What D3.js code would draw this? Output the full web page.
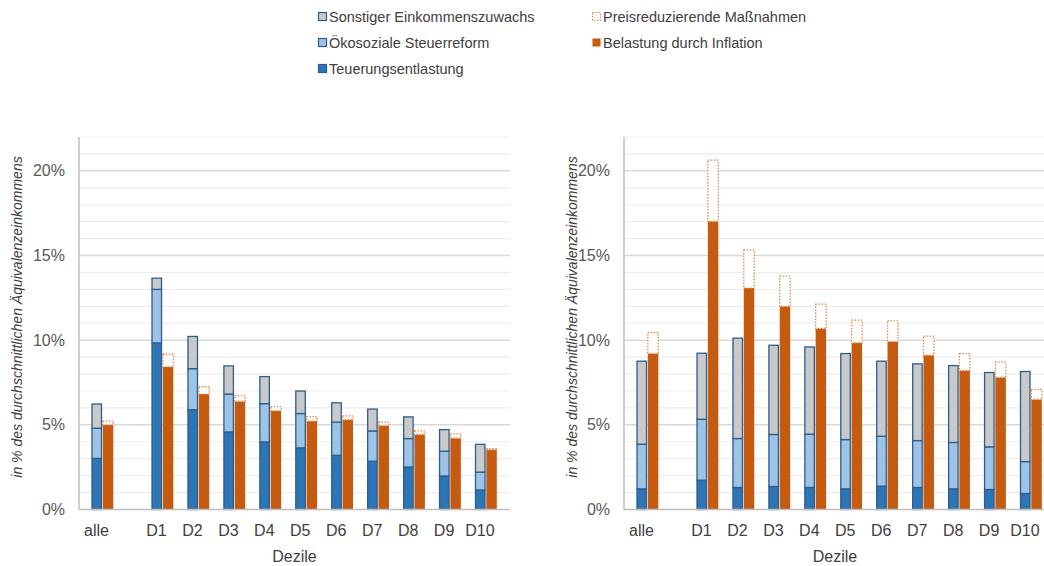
<!DOCTYPE html>
<html lang="de">
<head>
<meta charset="utf-8">
<script src="https://cdn.jsdelivr.net/npm/d3@7"></script>
<style>
  html, body { margin: 0; padding: 0; background: #fff; }
  svg { display: block; font-family: "Liberation Sans", Arial, sans-serif; }
</style>
</head>
<body>
<svg id="chart" width="1044" height="566"></svg>
<script>
// Kategorien: alle Haushalte und Einkommensdezile
const categories = ["alle", "D1", "D2", "D3", "D4", "D5", "D6", "D7", "D8", "D9", "D10"];

// Linkes Diagramm – Anteile in % des durchschnittlichen Äquivalenzeinkommens
const leftTeuerung   = [3.02, 9.84, 5.89, 4.58, 3.99, 3.64, 3.20, 2.85, 2.51, 1.98, 1.15];
const leftOeko       = [1.78, 3.16, 2.43, 2.24, 2.26, 2.03, 1.96, 1.79, 1.68, 1.46, 1.06];
const leftSonstig    = [1.43, 0.66, 1.90, 1.66, 1.60, 1.33, 1.14, 1.29, 1.28, 1.28, 1.64];
const leftInflation  = [5.00, 8.42, 6.82, 6.38, 5.83, 5.22, 5.30, 4.96, 4.43, 4.21, 3.52];
const leftPreis      = [0.22, 0.75, 0.43, 0.34, 0.24, 0.27, 0.23, 0.20, 0.21, 0.26, 0.08];

// Rechtes Diagramm
const rightTeuerung  = [1.22, 1.73, 1.30, 1.36, 1.30, 1.22, 1.38, 1.30, 1.22, 1.18, 0.94];
const rightOeko      = [2.64, 3.60, 2.89, 3.07, 3.15, 2.91, 2.95, 2.77, 2.74, 2.52, 1.89];
const rightSonstig   = [4.90, 3.90, 5.93, 5.27, 5.15, 5.08, 4.43, 4.53, 4.54, 4.39, 5.32];
const rightInflation = [9.21, 17.02, 13.08, 12.00, 10.69, 9.84, 9.92, 9.11, 8.21, 7.80, 6.50];
const rightPreis     = [1.24, 3.61, 2.25, 1.78, 1.44, 1.34, 1.22, 1.13, 1.00, 0.90, 0.59];

const yTicks = [0, 5, 10, 15, 20];
const yMax = 22;

const legendItems = [
  { key: "sonstig",   label: "Sonstiger Einkommenszuwachs" },
  { key: "oeko",      label: "Ökosoziale Steuerreform" },
  { key: "teuerung",  label: "Teuerungsentlastung" },
  { key: "preis",     label: "Preisreduzierende Maßnahmen" },
  { key: "inflation", label: "Belastung durch Inflation" }
];

const colors = {
  teuerung: "#2e75b6",
  oeko: "#9dc3e6",
  sonstig: "#c9c9c9",
  inflation: "#c55a11",
  blueStroke: "#2c5d8c",
  preisStroke: "#e8864a"
};

const svg = d3.select("#chart");

// Legende
const legend = svg.append("g").attr("font-size", "14.5px").attr("fill", "#404040");
const legendPos = [
  { x: 318, y: 17 }, { x: 318, y: 43 }, { x: 318, y: 69 },
  { x: 592, y: 17 }, { x: 592, y: 43 }
];
legendItems.forEach((item, i) => {
  const p = legendPos[i];
  const g = legend.append("g").attr("transform", `translate(${p.x},${p.y})`);
  const sw = g.append("rect").attr("x", 0.5).attr("y", -4.5).attr("width", 8).attr("height", 8);
  if (item.key === "preis") {
    sw.attr("fill", "#fff").attr("stroke", colors.preisStroke).attr("stroke-width", 1.2)
      .attr("stroke-dasharray", "1.5,1.5");
  } else if (item.key === "inflation") {
    sw.attr("fill", colors.inflation);
  } else {
    sw.attr("fill", colors[item.key]).attr("stroke", colors.blueStroke).attr("stroke-width", 1.2);
  }
  g.append("text").attr("x", 11).attr("y", 0).attr("dy", "0.35em").text(item.label);
});

function drawPanel(left, series) {
  const width = 431;
  const top = 137, bottom = 509.5;
  const g = svg.append("g").attr("transform", `translate(${left},0)`);

  const y = d3.scaleLinear().domain([0, yMax]).range([bottom, top]);

  // Gruppenposition: "alle" steht abgesetzt vor den Dezilen
  const gap = 1.67;
  const slot = i => (i === 0 ? -gap : i - 1);
  const x = d3.scaleLinear().domain([-gap, 9]).range([23, 406.5]);

  // Gitternetzlinien
  const grid = g.append("g");
  d3.range(1, yMax + 1).forEach(v => {
    const major = v % 5 === 0;
    grid.append("line")
      .attr("x1", 0).attr("x2", width)
      .attr("y1", y(v)).attr("y2", y(v))
      .attr("stroke", major ? "#d9d9d9" : "#ededed")
      .attr("stroke-width", major ? 1.5 : 1.2);
  });

  // Y-Achse mit Prozentbeschriftung
  const yAxis = d3.axisLeft(y).tickValues(yTicks).tickFormat(d => d + "%").tickSize(0).tickPadding(14);
  const ya = g.append("g").call(yAxis);
  ya.select(".domain").remove();
  ya.selectAll("text").attr("font-size", "16px").attr("fill", "#595959")
    .attr("font-family", "'Liberation Sans', Arial, sans-serif");

  // Achsenlinien
  g.append("line").attr("x1", 0).attr("x2", 0).attr("y1", top).attr("y2", bottom)
    .attr("stroke", "#bfbfbf").attr("stroke-width", 1.5);

  // Gestapelte Entlastungen (blau) und Belastungen (orange)
  const rows = categories.map((c, i) => ({
    cat: c, i,
    teuerung: series.teuerung[i], oeko: series.oeko[i], sonstig: series.sonstig[i],
    inflation: series.inflation[i], preis: series.preis[i]
  }));
  const blueStack = d3.stack().keys(["teuerung", "oeko", "sonstig"])(rows);
  const orangeStack = d3.stack().keys(["inflation", "preis"])(rows);

  const bw = 9.5, ow = 10.5;
  blueStack.forEach(layer => {
    g.append("g").selectAll("rect").data(layer).join("rect")
      .attr("x", d => x(slot(d.data.i)) - bw - 0.5)
      .attr("y", d => y(d[1]))
      .attr("width", bw)
      .attr("height", d => y(d[0]) - y(d[1]))
      .attr("fill", colors[layer.key])
      .attr("stroke", colors.blueStroke)
      .attr("stroke-width", 1.3);
  });

  orangeStack.forEach(layer => {
    const sel = g.append("g").selectAll("rect").data(layer).join("rect")
      .attr("x", d => x(slot(d.data.i)) + 0.8)
      .attr("y", d => y(d[1]))
      .attr("width", ow)
      .attr("height", d => y(d[0]) - y(d[1]));
    if (layer.key === "inflation") {
      sel.attr("fill", colors.inflation);
    } else {
      sel.attr("fill", "#fff").attr("stroke", colors.preisStroke)
        .attr("stroke-width", 1.3).attr("stroke-dasharray", "1.5,1.5");
    }
  });

  // X-Achse
  g.append("line").attr("x1", 0).attr("x2", width).attr("y1", bottom).attr("y2", bottom)
    .attr("stroke", "#bfbfbf").attr("stroke-width", 1.5);

  g.append("g").selectAll("text").data(categories).join("text")
    .attr("x", (d, i) => x(slot(i)) - 5.5)
    .attr("y", 530).attr("dy", "0.35em")
    .attr("text-anchor", "middle")
    .attr("font-size", "16px").attr("fill", "#404040")
    .text(d => d);

  return g;
}

drawPanel(79, { teuerung: leftTeuerung, oeko: leftOeko, sonstig: leftSonstig,
                inflation: leftInflation, preis: leftPreis });
drawPanel(624, { teuerung: rightTeuerung, oeko: rightOeko, sonstig: rightSonstig,
                 inflation: rightInflation, preis: rightPreis });

// Achsentitel
[{ x: 294.5 }, { x: 835 }].forEach(p => {
  svg.append("text").attr("x", p.x).attr("y", 556).attr("dy", "0.35em")
    .attr("text-anchor", "middle").attr("font-size", "16px").attr("fill", "#404040")
    .text("Dezile");
});
[{ x: 17 }, { x: 572 }].forEach(p => {
  svg.append("text")
    .attr("transform", `translate(${p.x},317) rotate(-90)`)
    .attr("text-anchor", "middle").attr("dy", "0.35em")
    .attr("font-size", "14px").attr("font-style", "italic").attr("fill", "#404040")
    .text("in % des durchschnittlichen Äquivalenzeinkommens");
});
</script>
</body>
</html>
